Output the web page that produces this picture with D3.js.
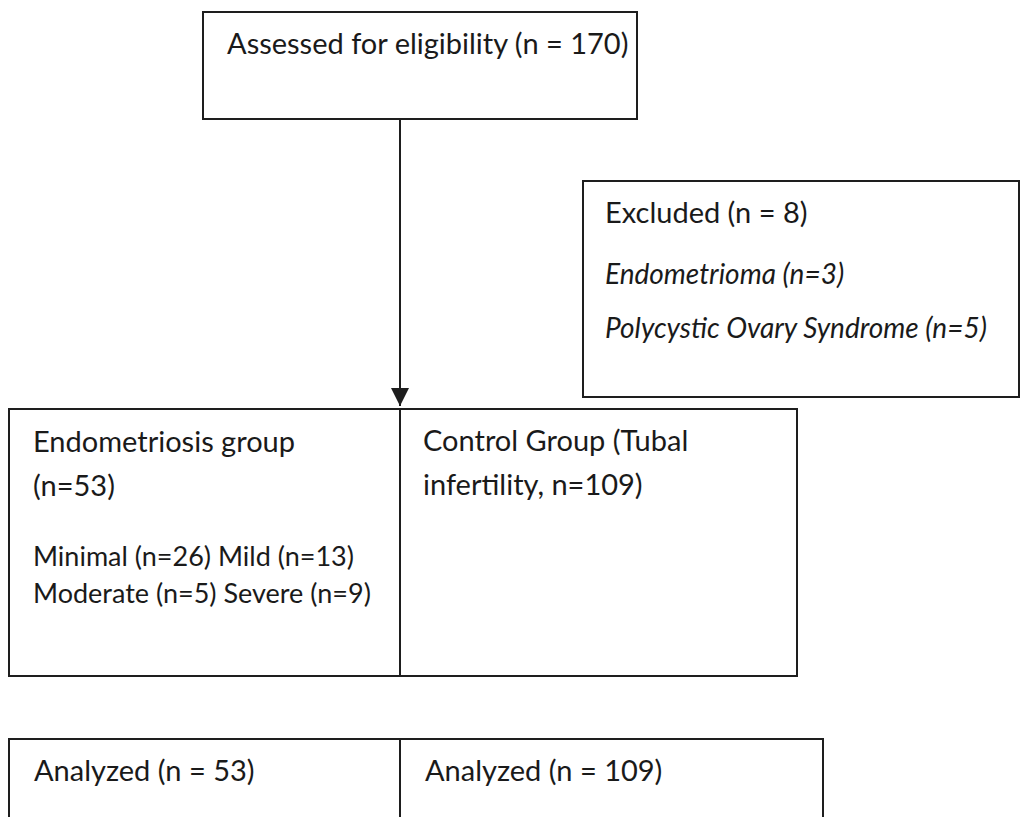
<!DOCTYPE html>
<html>
<head>
<meta charset="utf-8">
<script src="https://cdn.jsdelivr.net/npm/d3@7"></script>
<style>
  body { margin: 0; background: #fff; }
  text { font-family: Lato, "Open Sans", sans-serif; fill: #1a1a1a; }
</style>
</head>
<body>
<script>
// counts
var assessed = 170;
var excludedTotal = 8;
var excludedReasons = ["Endometrioma", "Polycystic Ovary Syndrome"];
var excludedCounts = [3, 5];
var groups = ["Endometriosis", "Control"];
var groupCounts = [53, 109];
var stages = ["Minimal", "Mild", "Moderate", "Severe"];
var stageCounts = [26, 13, 5, 9];
var analyzedCounts = [53, 109];

var width = 1022, height = 817;
var svg = d3.select("body").append("svg").attr("width", width).attr("height", height);

var ink = "#1e1e1e";
var fs = 29;

function box(x, y, w, h) {
  svg.append("rect")
    .attr("x", x).attr("y", y).attr("width", w).attr("height", h)
    .attr("fill", "none").attr("stroke", ink).attr("stroke-width", 2);
}
function label(x, y, s, italic, size) {
  svg.append("text").attr("x", x).attr("y", y)
    .style("font-size", (size || (italic ? fs - 1 : fs)) + "px")
    .style("font-style", italic ? "italic" : "normal")
    .text(s);
}

// assessed
box(203, 12, 434, 107);
label(227, 54, "Assessed for eligibility (n = " + assessed + ")");

// excluded
box(583, 181, 436, 216);
label(605, 223, "Excluded (n = " + excludedTotal + ")");
excludedReasons.forEach(function (r, i) {
  label(605, 284 + i * 54, r + " (n=" + excludedCounts[i] + ")", true);
});

// column edges for the two arms (group row / analyzed row)
var groupEdges = [9, 400, 797];
var analyzedEdges = [9, 400, 823];

// arrow down to groups
svg.append("defs").append("marker")
  .attr("id", "arr").attr("viewBox", "0 0 10 10")
  .attr("refX", 10).attr("refY", 5)
  .attr("markerWidth", 20).attr("markerHeight", 18)
  .attr("markerUnits", "userSpaceOnUse")
  .attr("orient", "auto")
  .append("path").attr("d", "M0,0 L10,5 L0,10 Z").attr("fill", ink);

svg.append("line")
  .attr("x1", groupEdges[1]).attr("y1", 119)
  .attr("x2", groupEdges[1]).attr("y2", 406)
  .attr("stroke", ink).attr("stroke-width", 2)
  .attr("marker-end", "url(#arr)");

// group boxes
groups.forEach(function (g, i) {
  box(groupEdges[i], 409, groupEdges[i + 1] - groupEdges[i], 267);
});
var x0 = groupEdges[0] + 24, x1 = groupEdges[1] + 23;
label(x0, 452, "Endometriosis group");
label(x0, 496, "(n=" + groupCounts[0] + ")");
label(x0, 566, stages[0] + " (n=" + stageCounts[0] + ") " + stages[1] + " (n=" + stageCounts[1] + ")", false, 27);
label(x0, 603, stages[2] + " (n=" + stageCounts[2] + ") " + stages[3] + " (n=" + stageCounts[3] + ")", false, 27);
label(x1, 451, "Control Group (Tubal");
label(x1, 495, "infertility, n=" + groupCounts[1] + ")");

// analyzed boxes (run off the bottom)
groups.forEach(function (g, i) {
  box(analyzedEdges[i], 739, analyzedEdges[i + 1] - analyzedEdges[i], 120);
  label(analyzedEdges[i] + 25, 781, "Analyzed (n = " + analyzedCounts[i] + ")");
});
</script>
</body>
</html>
